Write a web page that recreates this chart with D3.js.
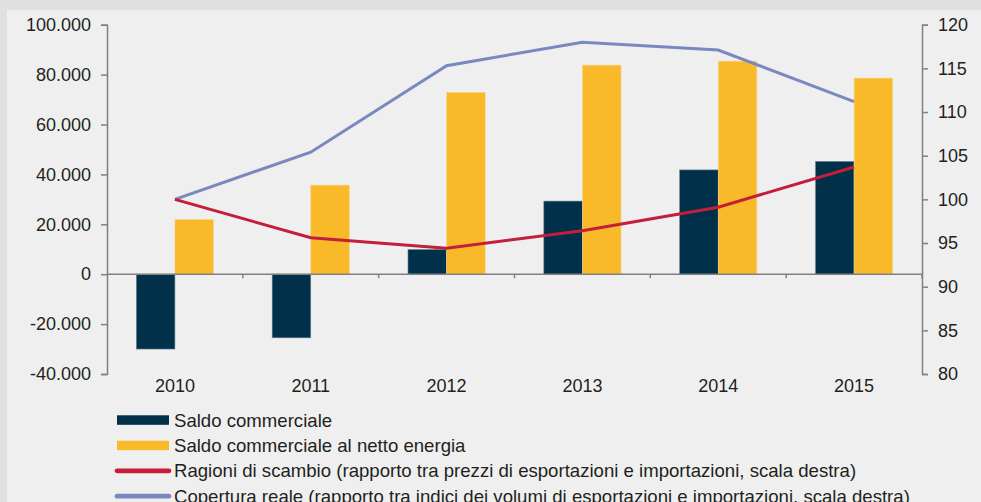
<!DOCTYPE html>
<html lang="it">
<head>
<meta charset="UTF-8">
<title>Saldo commerciale</title>
<style>
    body { margin: 0; background: #dfe0e2; }
    svg { display: block; font-family: "Liberation Sans", Arial, sans-serif; }
    .axis text { font-size: 18px; fill: #231f20; }
    .axis path, .axis line { stroke: #808080; stroke-width: 1.5; }
    .legend text { font-size: 18.6px; fill: #231f20; }
</style>
</head>
<body>
<svg id="container" width="981" height="502"></svg>
<script src="https://cdn.jsdelivr.net/npm/d3@7"></script>
<script>

// data
let years = ["2010", "2011", "2012", "2013", "2014", "2015"]
let saldo = [-30000, -25500, 9900, 29300, 41800, 45200]
let saldoNetto = [21900, 35700, 72900, 83800, 85400, 78600]
let ragioni = [100, 95.6, 94.4, 96.4, 99.1, 103.7]
let copertura = [100, 105.4, 115.3, 118.0, 117.1, 111.2]
let leftTicks = [-40000, -20000, 0, 20000, 40000, 60000, 80000, 100000]
let rightTicks = [80, 85, 90, 95, 100, 105, 110, 115, 120]
let legendLabels = [
    "Saldo commerciale",
    "Saldo commerciale al netto energia",
    "Ragioni di scambio (rapporto tra prezzi di esportazioni e importazioni, scala destra)",
    "Copertura reale (rapporto tra indici dei volumi di esportazioni e importazioni, scala destra)"
]

let colors = { saldo: "#00304a", netto: "#f9b928", ragioni: "#c41e3a", copertura: "#7a88c0" }

let svg = d3.select("#container")

svg.append("rect")
    .attr("x", 7).attr("y", 10)
    .attr("width", 974).attr("height", 492)
    .attr("fill", "#efefef")

let plotLeft = 107, plotRight = 922, plotTop = 24.7, plotBottom = 374

let yL = d3.scaleLinear().domain([-40000, 100000]).range([plotBottom, plotTop])
let yR = d3.scaleLinear().domain([80, 120]).range([plotBottom, plotTop])

let x0 = d3.scaleBand().domain(years).range([plotLeft, plotRight])
let x1 = d3.scaleBand().domain(["saldo", "netto"])
    .range([0, x0.bandwidth()])
    .paddingInner(0).paddingOuter(0.76)

let it = d3.formatLocale({ decimal: ",", thousands: ".", grouping: [3], currency: ["", ""], minus: "-" })
let fmt = it.format(",")

// axes
svg.append("g")
    .attr("class", "axis")
    .attr("transform", "translate(" + plotLeft + ",0)")
    .call(d3.axisLeft(yL).tickValues(leftTicks).tickFormat(fmt).tickSize(6).tickPadding(10))

svg.append("g")
    .attr("class", "axis")
    .attr("transform", "translate(" + plotRight + ",0)")
    .call(d3.axisRight(yR).tickValues(rightTicks).tickSize(6).tickPadding(10))

// bars
let barData = years.map((y, i) => [
    { year: y, key: "saldo", value: saldo[i] },
    { year: y, key: "netto", value: saldoNetto[i] }
])

svg.append("g").selectAll("g")
    .data(barData)
    .join("g")
    .attr("transform", d => "translate(" + x0(d[0].year) + ",0)")
    .selectAll("rect")
    .data(d => d)
    .join("rect")
    .attr("x", d => x1(d.key))
    .attr("width", x1.bandwidth())
    .attr("y", d => yL(Math.max(0, d.value)))
    .attr("height", d => Math.abs(yL(d.value) - yL(0)))
    .attr("fill", d => colors[d.key])
    .attr("stroke", d => d.key == "saldo" ? "#6f8594" : "#f5d78f")
    .attr("stroke-width", 0.6)

// zero line + category ticks
let xAxis = svg.append("g").attr("class", "axis")
xAxis.append("line")
    .attr("x1", plotLeft).attr("x2", plotRight)
    .attr("y1", yL(0)).attr("y2", yL(0))
    .attr("stroke-width", 2)
xAxis.selectAll(".tk")
    .data(years.slice(1).concat(["end"]))
    .join("line")
    .attr("class", "tk")
    .attr("x1", d => d == "end" ? plotRight : x0(d))
    .attr("x2", d => d == "end" ? plotRight : x0(d))
    .attr("y1", yL(0)).attr("y2", yL(0) + 4)

svg.append("g")
    .attr("class", "axis")
    .attr("transform", "translate(0," + plotBottom + ")")
    .call(d3.axisBottom(x0).tickSize(0).tickPadding(5))
    .call(g => g.select(".domain").remove())

// lines
let cx = d => x0(d) + x0.bandwidth() / 2
let line = d3.line().x(d => cx(d.year)).y(d => yR(d.value))

let lineData = [
    { key: "copertura", values: years.map((y, i) => ({ year: y, value: copertura[i] })) },
    { key: "ragioni", values: years.map((y, i) => ({ year: y, value: ragioni[i] })) }
]

svg.append("g").selectAll("path")
    .data(lineData)
    .join("path")
    .attr("d", d => line(d.values))
    .attr("fill", "none")
    .attr("stroke", d => colors[d.key])
    .attr("stroke-width", 3)

// legend (last row runs off the bottom, as in the original)
let legend = svg.append("g").attr("class", "legend")
let legKeys = ["saldo", "netto", "ragioni", "copertura"]
let rows = legend.selectAll("g")
    .data(legKeys)
    .join("g")
    .attr("transform", (d, i) => "translate(117," + (420 + i * 25.4) + ")")

rows.filter((d, i) => i < 2).append("rect")
    .attr("x", 0).attr("y", -4.7)
    .attr("width", 52).attr("height", 9.5)
    .attr("fill", d => colors[d])

rows.filter((d, i) => i >= 2).append("line")
    .attr("x1", 0).attr("x2", 52)
    .attr("stroke", d => colors[d])
    .attr("stroke-width", 4.7)
    .attr("stroke-linecap", "round")

rows.append("text")
    .attr("x", 57)
    .attr("dy", "0.35em")
    .text((d, i) => legendLabels[i])

</script>
</body>
</html>
